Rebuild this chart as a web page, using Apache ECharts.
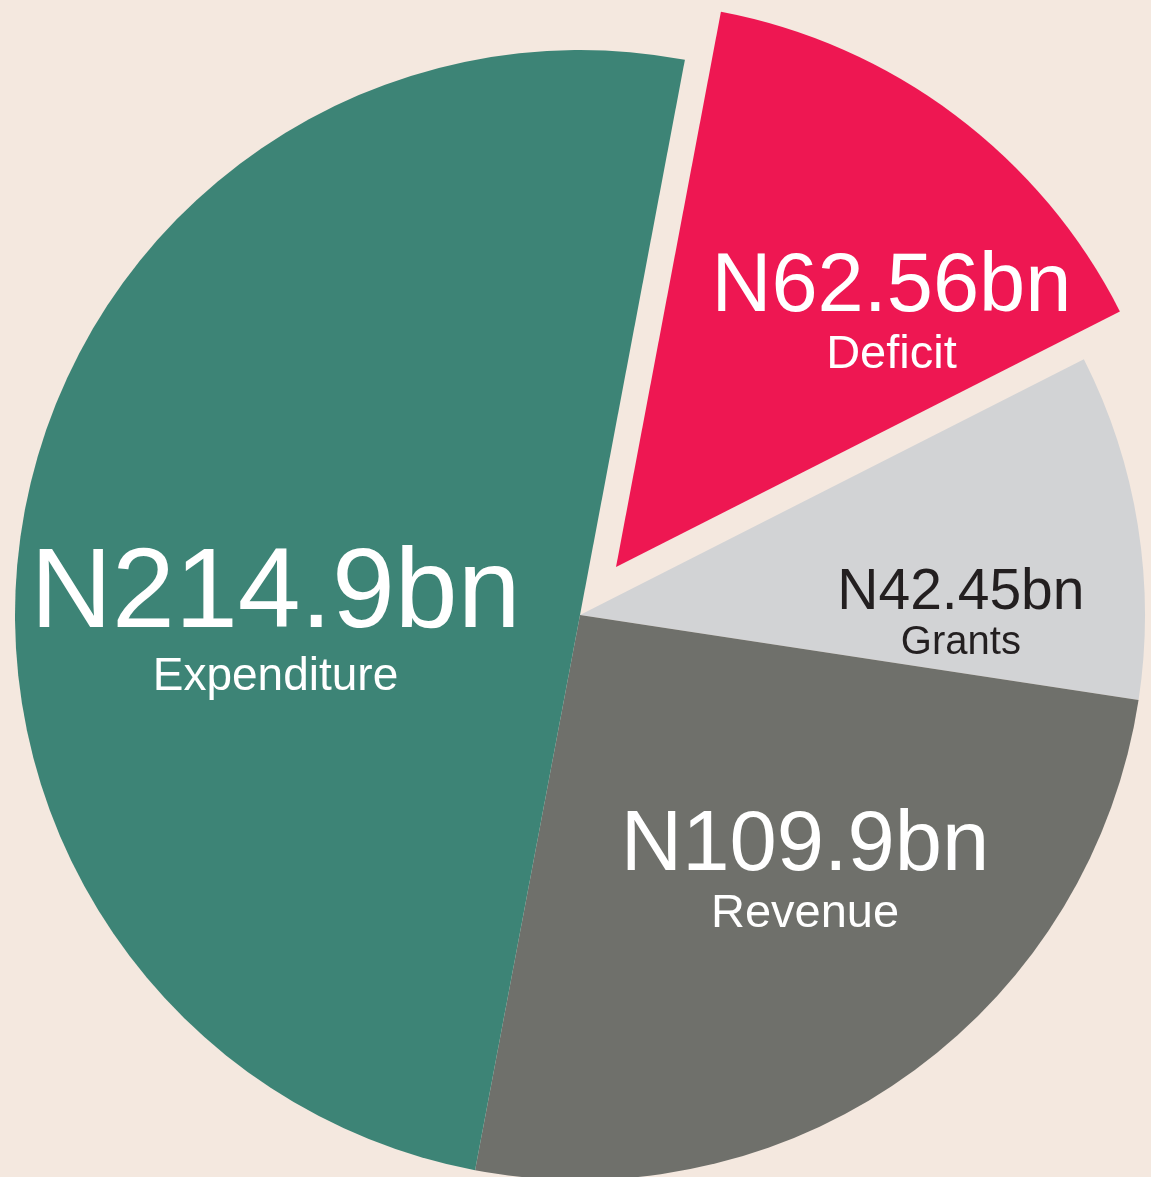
<!DOCTYPE html>
<html>
<head>
<meta charset="utf-8">
<script src="https://cdn.jsdelivr.net/npm/echarts@6/dist/echarts.min.js"></script>
<style>
  html, body { margin: 0; padding: 0; background: #f4e8df; }
  #chartPie { width: 1151px; height: 1177px; }
</style>
</head>
<body>
<div id="chartPie"></div>
<script>
// slices, clockwise from the deficit wedge
var names = ['Deficit', 'Grants', 'Revenue', 'Expenditure'];
var values = [62.56, 42.45, 109.9, 214.9];

var colors = ['#ee1752', '#d2d3d5', '#6f706b', '#3d8476'];
var bigSize = [83, 57, 85, 113];
var smallSize = [47, 40, 47, 46];
var textColor = ['#fff', '#231f20', '#fff', '#fff'];
// nudge labels from the slice middle to where they sit in the picture
var labelShift = [[104, -27], [99, 44], [60, 22], [-24, 57]];

var chartPie = echarts.init(document.getElementById('chartPie'));

var pieData = names.map(function (n, i) {
  return {
    name: n,
    value: values[i],
    selected: i === 0,
    itemStyle: { color: colors[i] },
    label: {
      color: textColor[i],
      rich: {
        a: { fontSize: bigSize[i], lineHeight: bigSize[i] * 1.04, color: textColor[i], fontFamily: 'Liberation Sans' },
        b: { fontSize: smallSize[i], lineHeight: smallSize[i] * 1.0, color: textColor[i], fontFamily: 'Liberation Sans' }
      }
    }
  };
});

chartPie.setOption({
  backgroundColor: '#f4e8df',
  animation: false,
  series: [
    {
      type: 'pie',
      center: [580, 615],
      radius: 565,
      startAngle: 79.3,
      clockwise: true,
      avoidLabelOverlap: false,
      selectedMode: 'single',
      selectedOffset: 60,
      itemStyle: { borderWidth: 0 },
      select: { itemStyle: { borderWidth: 0 } },
      emphasis: { disabled: true },
      labelLine: { show: false },
      label: {
        show: true,
        position: 'inside',
        fontFamily: 'Liberation Sans',
        formatter: function (p) {
          return '{a|N' + p.value + 'bn}\n{b|' + p.name + '}';
        }
      },
      labelLayout: function (p) {
        var s = labelShift[p.dataIndex];
        return { dx: s[0], dy: s[1] };
      },
      data: pieData
    }
  ]
});
</script>
</body>
</html>
